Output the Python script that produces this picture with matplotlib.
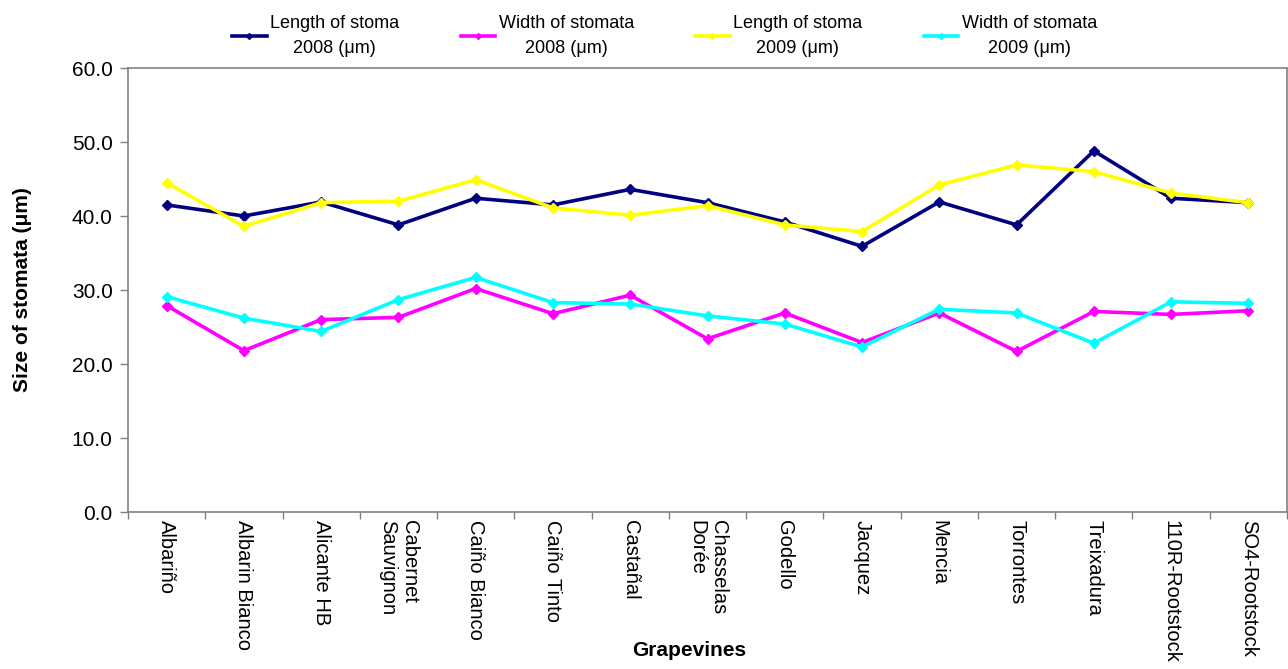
import matplotlib
matplotlib.use("Agg")
import matplotlib.pyplot as plt
import numpy as np

plt.rcParams['font.family'] = ['Liberation Sans', 'DejaVu Sans']

categories = ["Albariño", "Albarin Bianco", "Alicante HB", "Cabernet\nSauvignon",
              "Caiño Bianco", "Caiño Tinto", "Castañal", "Chasselas\nDorée",
              "Godello", "Jacquez", "Mencia", "Torrontes", "Treixadura",
              "110R-Rootstock", "SO4-Rootstock"]

length_2008 = [41.5, 40.0, 41.9, 38.8, 42.4, 41.5, 43.6, 41.8, 39.2, 35.9, 41.9, 38.8, 48.8, 42.4, 41.8]
width_2008 = [27.9, 21.8, 26.0, 26.3, 30.2, 26.8, 29.3, 23.4, 26.9, 22.9, 26.9, 21.7, 27.1, 26.7, 27.2]
length_2009 = [44.5, 38.6, 41.8, 42.0, 44.9, 41.1, 40.1, 41.4, 38.8, 37.9, 44.2, 46.9, 46.0, 43.1, 41.8]
width_2009 = [29.1, 26.2, 24.4, 28.7, 31.7, 28.3, 28.1, 26.5, 25.4, 22.3, 27.4, 26.9, 22.8, 28.4, 28.2]

series_labels = ["Length of stoma\n2008 (μm)", "Width of stomata\n2008 (μm)",
                 "Length of stoma\n2009 (μm)", "Width of stomata\n2009 (μm)"]
series_colors = ["#000080", "#FF00FF", "#FFFF00", "#00FFFF"]

W, H = 1288, 669
fig = plt.figure(figsize=(W / 100, H / 100), dpi=100)
ax = fig.add_axes([128 / W, 1 - 512 / H, (1287 - 128) / W, (512 - 68) / H])

x = np.arange(len(categories))
data = [length_2008, width_2008, length_2009, width_2009]
handles = []
for vals, lab, col in zip(data, series_labels, series_colors):
    h, = ax.plot(x, vals, color=col, lw=2.6, marker='D', ms=5, label=lab, zorder=3)
    handles.append(h)

ax.set_xlim(-0.5, len(categories) - 0.5)
ax.set_ylim(0, 60)
ax.set_yticks(np.arange(0, 61, 10))
ax.set_yticklabels([f"{v:.1f}" for v in np.arange(0, 61, 10)], fontsize=15)

ax.set_xticks(x)
ax.set_xticklabels(categories, rotation=-90, ha='center', va='top', fontsize=14.5,
                   multialignment='left')
ax.set_xticks(np.arange(-0.5, len(categories), 1), minor=True)
ax.tick_params(axis='x', which='major', length=0, pad=6)
ax.tick_params(axis='x', which='minor', length=5, color='#808080', width=1)
ax.tick_params(axis='y', length=6, color='#808080', width=1, pad=5)

for s in ax.spines.values():
    s.set_color('#808080')
    s.set_linewidth(1.2)

ax.set_ylabel("Size of stomata (μm)", fontsize=15, fontweight='bold')
ax.yaxis.set_label_coords(-(128 - 23) / (1287 - 128), 0.5)
ax.yaxis.label.set_va('center')
ax.set_xlabel("Grapevines", fontsize=15, fontweight='bold')
ax.xaxis.set_label_coords((689 - 128) / (1287 - 128), -(650 - 512) / (512 - 68))
ax.xaxis.label.set_va('center')

leg = fig.legend(handles=handles, loc='upper center', ncol=4, frameon=False,
                 fontsize=13, bbox_to_anchor=(0.516, 0.998), handlelength=1.9,
                 handletextpad=0.2, columnspacing=3.4, markerscale=0.6,
                 borderaxespad=0.35)
for t in leg.get_texts():
    t.set_multialignment('center')
    t.set_linespacing(1.6)

fig.savefig("out.png", dpi=100)
